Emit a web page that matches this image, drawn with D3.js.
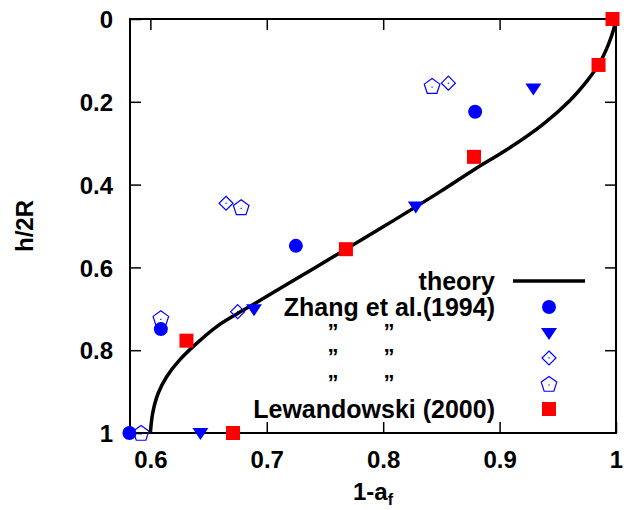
<!DOCTYPE html>
<html>
<head>
<meta charset="utf-8">
<script src="https://cdn.jsdelivr.net/npm/d3@7"></script>
<style>
  html, body { margin: 0; padding: 0; background: #fff; }
  text { font-family: "Liberation Sans", Arial, sans-serif; font-weight: bold; fill: #000; }
</style>
</head>
<body>
<svg id="chart" width="627" height="510"></svg>
<script>
// ---- data ----
const xTicks = [0.6, 0.7, 0.8, 0.9, 1];
const xTickLabels = ["0.6", "0.7", "0.8", "0.9", "1"];
const yTicks = [0, 0.2, 0.4, 0.6, 0.8, 1];
const yTickLabels = ["0", "0.2", "0.4", "0.6", "0.8", "1"];

// theory curve (1-a_f, h/2R)
const theoryX = [1.000, 0.998, 0.993, 0.985, 0.975, 0.960, 0.937, 0.906, 0.878, 0.849, 0.800, 0.768, 0.740, 0.703, 0.688, 0.674, 0.657, 0.640, 0.625, 0.614, 0.6067, 0.602, 0.600];
const theoryY = [0.000, 0.025, 0.065, 0.111, 0.150, 0.198, 0.255, 0.316, 0.364, 0.417, 0.502, 0.556, 0.603, 0.665, 0.690, 0.713, 0.743, 0.783, 0.824, 0.864, 0.904, 0.952, 1.000];

// Zhang et al. (1994) – filled circles
const zhangCircleX = [0.582, 0.609, 0.725, 0.879];
const zhangCircleY = [1.000, 0.749, 0.548, 0.224];
// ,, – filled down triangles
const zhangTriX = [0.643, 0.689, 0.828, 0.929];
const zhangTriY = [1.000, 0.701, 0.453, 0.168];
// ,, – open diamonds
const zhangDiamondX = [0.675, 0.665, 0.856];
const zhangDiamondY = [0.707, 0.445, 0.155];
// ,, – open pentagons
const zhangPentX = [0.592, 0.609, 0.678, 0.842];
const zhangPentY = [1.000, 0.723, 0.455, 0.162];
// Lewandowski (2000) – red squares
const lewX = [0.671, 0.631, 0.768, 0.878, 0.985, 0.997];
const lewY = [1.000, 0.777, 0.556, 0.333, 0.111, 0.000];

const legendLabels = ["theory", "Zhang et al.(1994)", "\u201D", "\u201D", "\u201D", "Lewandowski (2000)"];

// ---- layout ----
const svg = d3.select("#chart");
const L = 130, R = 616, T = 19, B = 433;
const x = d3.scaleLinear().domain([0.5825, 1]).range([L, R]);
const y = d3.scaleLinear().domain([0, 1]).range([T, B]);
const blue = "#0000ff", red = "#ff0000";
const tickLen = 11;

// axes (ticks inward, mirrored)
const gB = svg.append("g").attr("transform", `translate(0,${B})`)
  .call(d3.axisBottom(x).tickValues(xTicks).tickFormat((d, i) => xTickLabels[i]).tickSizeInner(-tickLen).tickSizeOuter(0).tickPadding(19));
const gT = svg.append("g").attr("transform", `translate(0,${T})`)
  .call(d3.axisTop(x).tickValues(xTicks.slice(0, 4)).tickFormat("").tickSizeInner(-tickLen).tickSizeOuter(0));
const gL = svg.append("g").attr("transform", `translate(${L},0)`)
  .call(d3.axisLeft(y).tickValues(yTicks).tickFormat((d, i) => yTickLabels[i]).tickSizeInner(-tickLen).tickSizeOuter(0).tickPadding(17));
const gR = svg.append("g").attr("transform", `translate(${R},0)`)
  .call(d3.axisRight(y).tickValues(yTicks.slice(1, 5)).tickFormat("").tickSizeInner(-tickLen).tickSizeOuter(0));
[gB, gT, gL, gR].forEach(g => {
  g.select(".domain").remove();
  g.selectAll("line").attr("stroke", "#000").attr("stroke-width", 1.5);
  g.selectAll("text").attr("font-size", 24).attr("font-family", "Liberation Sans, Arial, sans-serif").attr("font-weight", "bold").attr("fill", "#000");
});
gB.selectAll("text").attr("dy", null).attr("y", 35);
gL.selectAll("text").attr("dy", "0.36em").attr("x", -17);

// frame
svg.append("rect").attr("x", L).attr("y", T).attr("width", R - L).attr("height", B - T)
  .attr("fill", "none").attr("stroke", "#000").attr("stroke-width", 2);

// axis titles
const xl = svg.append("text").attr("x", (L + R) / 2).attr("y", 500).attr("text-anchor", "middle").attr("font-size", 24);
xl.append("tspan").text("1-a");
xl.append("tspan").text("f").attr("font-size", 16).attr("dy", 5);
svg.append("text").attr("transform", `translate(33,${(T + B) / 2}) rotate(-90)`)
  .attr("text-anchor", "middle").attr("font-size", 24).text("h/2R");

// theory curve
const theory = theoryX.map((v, i) => [v, theoryY[i]]);
svg.append("path").datum(theory)
  .attr("d", d3.line().x(d => x(d[0])).y(d => y(d[1])).curve(d3.curveCatmullRom.alpha(0.5)))
  .attr("fill", "none").attr("stroke", "#000").attr("stroke-width", 3.5).attr("stroke-linejoin", "round");

// marker drawers
function circle(g, cx, cy) { g.append("circle").attr("cx", cx).attr("cy", cy).attr("r", 7).attr("fill", blue); }
function tri(g, cx, cy) {
  g.append("path").attr("d", `M${cx - 8},${cy - 5}L${cx + 8},${cy - 5}L${cx},${cy + 7}Z`).attr("fill", blue);
}
function dot(g, cx, cy) { g.append("rect").attr("x", cx - 0.6).attr("y", cy - 0.6).attr("width", 1.2).attr("height", 1.2).attr("fill", blue); }
function diamond(g, cx, cy) {
  g.append("path").attr("d", `M${cx},${cy - 7}L${cx + 7},${cy}L${cx},${cy + 7}L${cx - 7},${cy}Z`)
    .attr("fill", "none").attr("stroke", blue).attr("stroke-width", 1.2);
  dot(g, cx, cy);
}
function pent(g, cx, cy) {
  const r = 8.2;
  const pts = d3.range(5).map(k => {
    const a = -Math.PI / 2 + k * 2 * Math.PI / 5;
    return [cx + r * Math.cos(a), cy + 0.6 + r * Math.sin(a)];
  });
  g.append("path").attr("d", "M" + pts.map(p => p.join(",")).join("L") + "Z")
    .attr("fill", "none").attr("stroke", blue).attr("stroke-width", 1.2);
  dot(g, cx, cy + 1);
}
function square(g, cx, cy) { g.append("rect").attr("x", cx - 7).attr("y", cy - 7).attr("width", 14).attr("height", 14).attr("fill", red); }

const gm = svg.append("g");
zhangPentX.forEach((v, i) => pent(gm, x(v), y(zhangPentY[i])));
zhangDiamondX.forEach((v, i) => diamond(gm, x(v), y(zhangDiamondY[i])));
zhangCircleX.forEach((v, i) => circle(gm, x(v), y(zhangCircleY[i])));
zhangTriX.forEach((v, i) => tri(gm, x(v), y(zhangTriY[i])));
lewX.forEach((v, i) => square(gm, x(v), y(lewY[i])));

// legend
const rowY = [281, 307, 333, 358, 384, 409];
const textX = 495, symX = 549;
const lg = svg.append("g");
legendLabels.forEach((lab, i) => {
  if (i >= 2 && i <= 4) {
    [333, 389].forEach(px => {
      lg.append("text").attr("x", px).attr("y", rowY[i] + 6).attr("text-anchor", "middle").attr("font-size", 22).text(lab);
    });
  } else {
    lg.append("text").attr("x", textX).attr("y", rowY[i]).attr("dy", "0.36em").attr("text-anchor", "end").attr("font-size", 25).text(lab);
  }
});
lg.append("line").attr("x1", 513).attr("x2", 585).attr("y1", rowY[0]).attr("y2", rowY[0]).attr("stroke", "#000").attr("stroke-width", 3.5);
circle(lg, symX, rowY[1]);
tri(lg, symX, rowY[2]);
diamond(lg, symX, rowY[3]);
pent(lg, symX, rowY[4]);
square(lg, symX, rowY[5]);
</script>
</body>
</html>
